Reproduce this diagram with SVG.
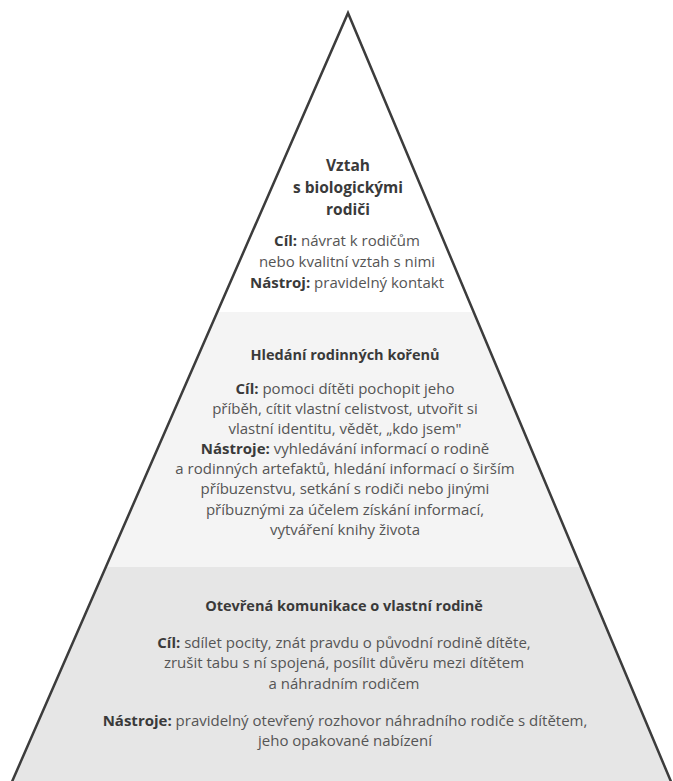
<svg xmlns="http://www.w3.org/2000/svg" width="673" height="781" viewBox="0 0 673 781">
  <style>
    text { font-family: "Open Sans", "Noto Sans", "DejaVu Sans", sans-serif; font-size: 15px; fill: #555; text-anchor: middle; }
    .h { font-weight: bold; fill: #3a3a3a; font-size: 14.5px; }
    .t { font-weight: bold; fill: #3a3a3a; font-size: 15.5px; }
    .b { font-weight: bold; fill: #3a3a3a; }
    .edge { fill: none; stroke: #3c3c3c; stroke-width: 2.5; stroke-linejoin: miter; }
  </style>
  <defs>
    <clipPath id="tri">
      <polygon points="348,13 12,781 671,781"/>
    </clipPath>
  </defs>
  <rect x="0" y="0" width="673" height="781" fill="#ffffff"/>
  <g clip-path="url(#tri)">
    <rect x="0" y="0" width="673" height="312" fill="#ffffff"/>
    <rect x="0" y="312" width="673" height="255" fill="#f4f4f4"/>
    <rect x="0" y="567" width="673" height="214" fill="#e6e6e6"/>
  </g>
  <polyline class="edge" points="11,784 348,13 672,784"/>

  <g id="level-top">
    <text class="t" x="348" y="171">Vztah</text>
    <text class="t" x="348" y="193">s biologickými</text>
    <text class="t" x="348" y="215">rodiči</text>
    <text x="347" y="246"><tspan class="b">Cíl:</tspan> návrat k rodičům</text>
    <text x="347" y="267">nebo kvalitní vztah s nimi</text>
    <text x="347" y="288"><tspan class="b">Nástroj:</tspan> pravidelný kontakt</text>
  </g>

  <g id="level-middle">
    <text class="h" x="345" y="360">Hledání rodinných kořenů</text>
    <text x="345" y="394"><tspan class="b">Cíl:</tspan> pomoci dítěti pochopit jeho</text>
    <text x="345" y="414">příběh, cítit vlastní celistvost, utvořit si</text>
    <text x="345" y="434">vlastní identitu, vědět, „kdo jsem"</text>
    <text x="345" y="454"><tspan class="b">Nástroje:</tspan> vyhledávání informací o rodině</text>
    <text x="345" y="474">a rodinných artefaktů, hledání informací o širším</text>
    <text x="345" y="494">příbuzenstvu, setkání s rodiči nebo jinými</text>
    <text x="345" y="515">příbuznými za účelem získání informací,</text>
    <text x="345" y="535">vytváření knihy života</text>
  </g>

  <g id="level-bottom">
    <text class="h" x="344" y="611">Otevřená komunikace o vlastní rodině</text>
    <text x="344" y="648"><tspan class="b">Cíl:</tspan> sdílet pocity, znát pravdu o původní rodině dítěte,</text>
    <text x="344" y="668">zrušit tabu s ní spojená, posílit důvěru mezi dítětem</text>
    <text x="344" y="689">a náhradním rodičem</text>
    <text x="345" y="726"><tspan class="b">Nástroje:</tspan> pravidelný otevřený rozhovor náhradního rodiče s dítětem,</text>
    <text x="345" y="746">jeho opakované nabízení</text>
  </g>
</svg>
